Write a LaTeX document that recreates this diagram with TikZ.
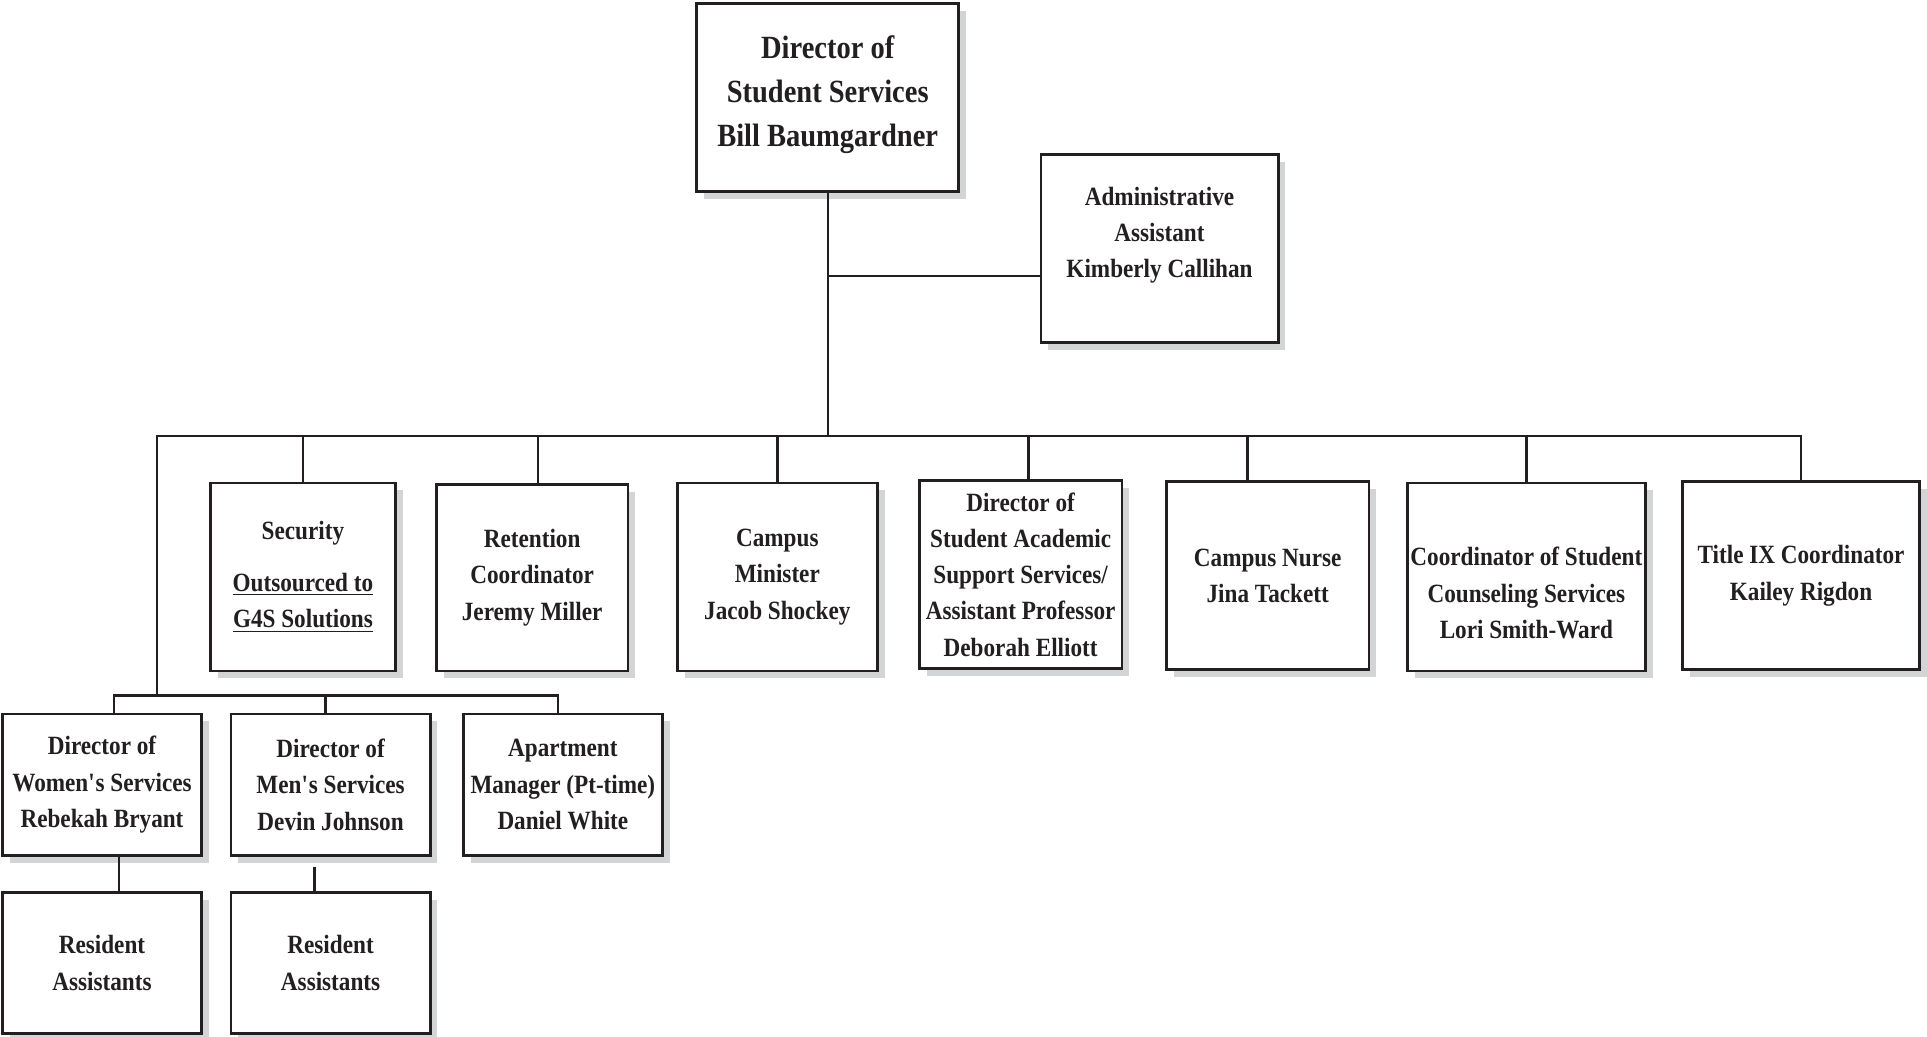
\documentclass[tikz,border=0pt]{standalone}
\usepackage{fontspec}
\setmainfont{Liberation Serif}[FakeStretch=0.88]
\usetikzlibrary{shadows}
\definecolor{ink}{HTML}{231F20}
\definecolor{shadowgray}{HTML}{D3D4D6}
\begin{document}
\begin{tikzpicture}[
    x=0.02cm, y=-0.02cm,
    box/.style={draw=ink, line width=1.3pt, fill=white, rectangle, inner sep=0pt,
        align=center, text=ink, font=\bfseries\fontsize{12.2}{16.8}\selectfont,
        drop shadow={shadow xshift=0.12cm, shadow yshift=-0.12cm, fill=shadowgray, opacity=1}},
    bigbox/.style={box, font=\bfseries\fontsize{15}{20.2}\selectfont},
    txt/.style={align=center, text=ink, inner sep=0pt},
    link/.style={draw=ink, line width=1.1pt}
]
    \useasboundingbox (0,0) rectangle (1568,843);

    % Head of the office and assistant
    \node[bigbox, minimum width=4.26cm, minimum height=3.06cm,
        label={[txt, font=\bfseries\fontsize{15}{20.2}\selectfont, yshift=0.05cm]center:{Director of\\Student Services\\Bill Baumgardner}}]
        (director) at (673.5,79.5) {};
    \node[box, minimum width=3.86cm, minimum height=3.06cm,
        label={[txt, font=\bfseries\fontsize{12.2}{16.8}\selectfont, yshift=0.22cm]center:{Administrative\\Assistant\\Kimberly Callihan}}]
        (admin) at (943.5,202.5) {};

    % Staff row
    \node[box, minimum width=3.02cm, minimum height=3.06cm] (security) at (246.5,469.5)
        {Security\\[7pt]\underline{Outsourced to}\\\underline{G4S Solutions}};
    \node[box, minimum width=3.12cm, minimum height=3.04cm] (retention) at (433,470)
        {Retention\\Coordinator\\Jeremy Miller};
    \node[box, minimum width=3.26cm, minimum height=3.06cm] (minister) at (632.5,469.5)
        {Campus\\Minister\\Jacob Shockey};
    \node[box, minimum width=3.30cm, minimum height=3.06cm] (academic) at (830.5,467.5)
        {Director of\\Student Academic\\Support Services/\\Assistant Professor\\Deborah Elliott};
    \node[box, minimum width=3.30cm, minimum height=3.06cm] (nurse) at (1031.5,468.5)
        {Campus Nurse\\Jina Tackett};
    \node[box, minimum width=3.88cm, minimum height=3.06cm,
        label={[txt, font=\bfseries\fontsize{12.2}{16.8}\selectfont, yshift=-0.26cm]center:{Coordinator of Student\\Counseling Services\\Lori Smith-Ward}}]
        (counsel) at (1242,469.5) {};
    \node[box, minimum width=3.86cm, minimum height=3.06cm] (titleix) at (1465.5,468.5)
        {Title IX Coordinator\\Kailey Rigdon};

    % Residence life
    \node[box, minimum width=3.24cm, minimum height=2.30cm] (women) at (83,638.5)
        {Director of\\Women\textquotesingle s Services\\Rebekah Bryant};
    \node[box, minimum width=3.24cm, minimum height=2.30cm] (men) at (269,638.5)
        {Director of\\Men\textquotesingle s Services\\Devin Johnson};
    \node[box, minimum width=3.24cm, minimum height=2.30cm] (apartment) at (458,638.5)
        {Apartment\\Manager (Pt-time)\\Daniel White};
    \node[box, minimum width=3.24cm, minimum height=2.30cm] (reswomen) at (83,783.5)
        {Resident\\Assistants};
    \node[box, minimum width=3.24cm, minimum height=2.30cm] (resmen) at (269,783.5)
        {Resident\\Assistants};

    % Connectors
    \coordinate (buswest) at (128,355);
    \coordinate (wing) at (128,566);
    \draw[link] (director.south) -- (director.south |- buswest);
    \draw[link] ([yshift=-0.44cm]admin.west) -- ([yshift=-0.44cm]admin.west -| director.south);
    \draw[link] (titleix.north) |- (buswest) -- (wing);
    \foreach \n in {security, minister, counsel} {
        \draw[link] (\n.north) -- (\n.north |- buswest);
    }
    \draw[link] ([xshift=0.1cm]retention.north) -- ([xshift=0.1cm]retention.north |- buswest);
    \draw[link] ([xshift=0.13cm]academic.north) -- ([xshift=0.13cm]academic.north |- buswest);
    \draw[link] ([xshift=-0.33cm]nurse.north) -- ([xshift=-0.33cm]nurse.north |- buswest);
    \draw[link] ([xshift=0.2cm]women.north) |- (wing);
    \draw[link] ([xshift=-0.08cm]apartment.north) |- (wing);
    \draw[link] ([xshift=-0.08cm]men.north) -- ([xshift=-0.08cm]men.north |- wing);
    \draw[link] ([xshift=0.28cm]women.south) -- ([xshift=0.28cm]reswomen.north);
    \draw[link] ([xshift=-0.26cm,yshift=-0.16cm]men.south) -- ([xshift=-0.26cm]resmen.north);
\end{tikzpicture}
\end{document}
